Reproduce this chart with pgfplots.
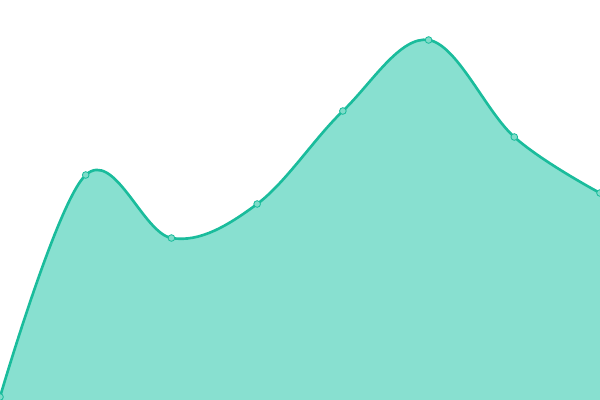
\documentclass[border=0pt]{standalone}
\usepackage{pgfplots}
\pgfplotsset{compat=1.18}
\definecolor{linec}{HTML}{1ABC9C}
\definecolor{fillc}{HTML}{88E0D0}
\definecolor{markc}{HTML}{7FDCC9}
\begin{document}
\begin{tikzpicture}
\begin{axis}[
  width=6in, height=4in, scale only axis,
  hide axis, xmin=0, xmax=7, ymin=0, ymax=400,
  clip=true, clip marker paths=true,
]
\addplot[fill=fillc, draw=none, smooth, tension=0.6] coordinates {
(0,3) (1,225) (2,162) (3,196) (4,289) (5,360) (6,263) (7,207)
} \closedcycle;
\addplot[linec, line width=1.9pt, smooth, tension=0.6, mark=*, mark size=2.4pt,
  mark options={fill=markc, draw=linec, line width=0.6pt}] coordinates {
(0,3) (1,225) (2,162) (3,196) (4,289) (5,360) (6,263) (7,207)
};
\end{axis}
\pgfresetboundingbox
\path (current axis.south west) rectangle (current axis.north east);
\end{tikzpicture}
\end{document}
